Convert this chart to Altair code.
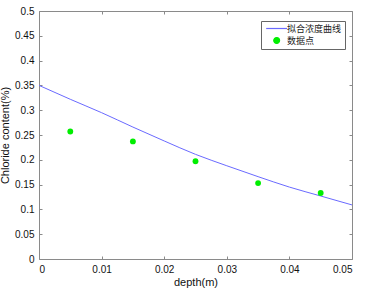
import altair as alt
import pandas as pd

# fitted curve
curve_x = [0.0, 0.005, 0.01, 0.015, 0.02, 0.025, 0.03, 0.035, 0.04, 0.045, 0.05]
curve_y = [0.35, 0.322, 0.295, 0.266, 0.238, 0.211, 0.188, 0.166, 0.145, 0.127, 0.109]
# measured data points
pts_x = [0.005, 0.015, 0.025, 0.035, 0.045]
pts_y = [0.257, 0.237, 0.197, 0.153, 0.133]
series_names = ["拟合浓度曲线", "数据点"]
x_ticks = [0, 0.01, 0.02, 0.03, 0.04, 0.05]
y_ticks = [0, 0.05, 0.1, 0.15, 0.2, 0.25, 0.3, 0.35, 0.4, 0.45, 0.5]

curve = pd.DataFrame({"x": curve_x, "y": curve_y, "s": series_names[0]})
pts = pd.DataFrame({"x": pts_x, "y": pts_y, "s": series_names[1]})

FONT = "Liberation Sans"
xs = alt.Scale(domain=[0, 0.05], nice=False)
ys = alt.Scale(domain=[0, 0.5], nice=False)
color_scale = alt.Scale(domain=series_names, range=["#6a6aff", "#00ee00"])
# legend glyphs: a long line segment and a dot centred under it
shape_scale = alt.Scale(
    domain=series_names,
    range=["M-0.8,0H6.4", "M1.8,0A1,1,0,1,1,3.8,0A1,1,0,1,1,1.8,0Z"],
)

legend = alt.Legend(
    title=None, orient="none", legendX=222, legendY=10,
    strokeColor="#666", fillColor="white", padding=3,
    labelFont="Noto Sans CJK SC", labelFontSize=9, labelColor="#222",
    symbolSize=34, symbolStrokeWidth=1.2, rowPadding=1, labelOffset=14,
)

line = alt.Chart(curve).mark_line(strokeWidth=1, interpolate="monotone").encode(
    x=alt.X("x:Q", scale=xs, axis=alt.Axis(
        orient="bottom", values=x_ticks, title="depth(m)", format="~g",
        offset=-3, tickSize=3, domain=False, labelPadding=5, titlePadding=2,
        grid=False)),
    y=alt.Y("y:Q", scale=ys, axis=alt.Axis(
        orient="left", values=y_ticks, title="Chloride content(%)", format="~g",
        offset=-3, tickSize=3, domain=False, labelPadding=5, titlePadding=4,
        grid=False)),
    color=alt.Color("s:N", scale=color_scale, legend=legend),
)

points = alt.Chart(pts).mark_point(filled=True, size=34, opacity=1, shape="circle").encode(
    x=alt.X("x:Q", scale=xs, axis=alt.Axis(
        orient="top", values=x_ticks, labels=False, title=None,
        offset=-3, tickSize=3, domain=False, grid=False)),
    y=alt.Y("y:Q", scale=ys, axis=alt.Axis(
        orient="right", values=y_ticks, labels=False, title=None,
        offset=-3, tickSize=3, domain=False, grid=False)),
    color=alt.Color("s:N", scale=color_scale, legend=legend),
)

# invisible layer that carries the shape channel for the legend glyphs only
legend_shapes = alt.Chart(pts).mark_point(filled=True, size=34, opacity=0).encode(
    x=alt.X("x:Q", scale=xs, axis=None),
    y=alt.Y("y:Q", scale=ys, axis=None),
    color=alt.Color("s:N", scale=color_scale, legend=legend),
    shape=alt.Shape("s:N", scale=shape_scale, legend=legend),
)

chart = alt.layer(line, points, legend_shapes).resolve_axis(
    x="independent", y="independent"
).properties(
    width=313, height=248,
    autosize=alt.AutoSizeParams(type="none"),
    padding={"left": 39, "top": 11, "right": 16, "bottom": 34},
    background="white",
).configure_view(stroke="#8a8a8a", strokeWidth=1).configure_axis(
    labelFont=FONT, titleFont=FONT, labelFontSize=10, titleFontSize=11,
    labelColor="#111", titleColor="#111", titleFontWeight="normal",
    tickColor="#8a8a8a", tickWidth=1,
).configure_legend(symbolOpacity=1)

chart.save("out.html", embed_options={"renderer": "svg", "actions": False})
